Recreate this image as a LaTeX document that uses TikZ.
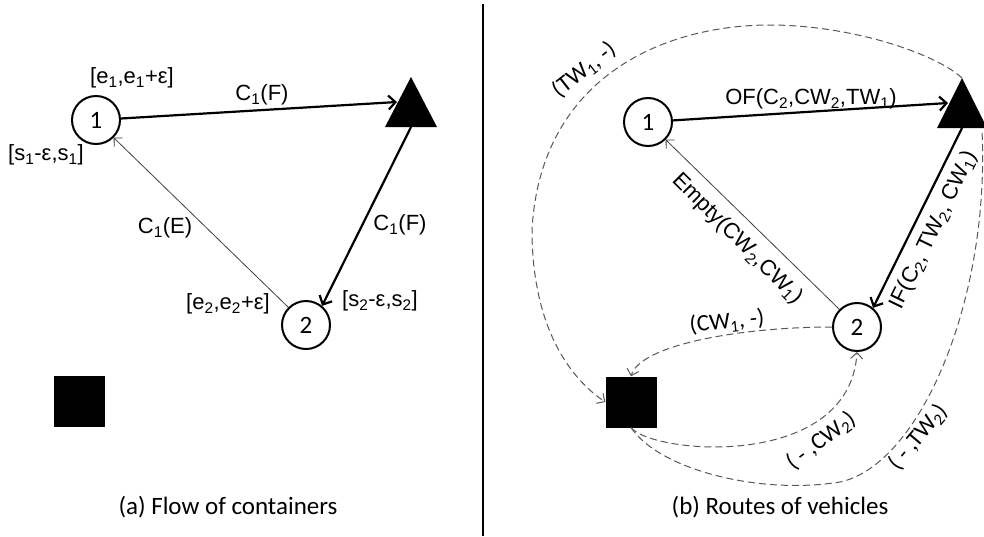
\documentclass[tikz,border=0pt]{standalone}
\usepackage{fontspec}
\setmainfont{Liberation Sans}
\newfontfamily\calfont{Carlito}
\usetikzlibrary{arrows.meta}
\newcommand\sbs[1]{\textsubscript{#1}}
\begin{document}
\begin{tikzpicture}[x=1pt,y=-1pt,
  vnode/.style={circle,draw,line width=2pt,minimum size=48pt,inner sep=0pt,font=\calfont\fontsize{25}{30}\selectfont},
  depot/.style={rectangle,fill=black,minimum size=51pt,inner sep=0pt},
  lab/.style={inner sep=1pt,font=\fontsize{22}{26}\selectfont},
  dlab/.style={inner sep=1pt,font=\calfont\fontsize{23.5}{28}\selectfont},
  captxt/.style={inner sep=0pt,font=\calfont\fontsize{25}{30}\selectfont},
  flow/.style={line width=2.2pt,-{Straight Barb[length=7pt,width=14pt]}},
  emptyarr/.style={line width=0.8pt,draw=black!75,-{Straight Barb[length=6pt,width=12pt]}},
  route/.style={line width=1pt,draw=black!65,dash pattern=on 7pt off 4pt},
  routearr/.style={route,-{Straight Barb[length=6pt,width=12pt]}},
]
\useasboundingbox (0,0) rectangle (984,536);
\fill[white] (0,0) rectangle (984,536);

% divider
\draw[line width=2.5pt] (483,4) -- (483,536);

% ---------- left panel ----------
\node[vnode] (L1) at (96,120) {1};
\node[vnode] (L2) at (306,325) {2};
\node[depot] (LS) at (79,401) {};
\fill (385,127) -- (411,77) -- (437,127) -- cycle;
\coordinate (LTin) at (397,102);
\coordinate (LTout) at (411,127);

\draw[flow] (L1) -- (LTin);
\draw[flow] (LTout) -- (L2.50);
\draw[emptyarr] (L2.135) -- (L1.-45);

\node[lab] (le1) at (132,78) {[e\sbs1,e\sbs1+ε]};
\node[lab] (ls1) at (46,155) {[s\sbs1-ε,s\sbs1]};
\node[lab] (lcf1) at (262,95) {C\sbs1(F)};
\node[lab] (lcf2) at (400,225) {C\sbs1(F)};
\node[lab] (lce) at (165,228) {C\sbs1(E)};
\node[lab] (le2) at (228,304) {[e\sbs2,e\sbs2+ε]};
\node[lab] (ls2) at (380,301) {[s\sbs2-ε,s\sbs2]};
\node[captxt] (capa) at (228,507) {(a) Flow of containers};

% ---------- right panel ----------
\node[vnode] (R1) at (648,122) {1};
\node[vnode] (R2) at (857,327) {2};
\node[depot] (RS) at (631,402) {};
\fill (937,128) -- (962,78) -- (987,128) -- cycle;
\coordinate (RTa) at (962,78);
\coordinate (RTin) at (948,103);
\coordinate (RTout) at (962,128);
\coordinate (RTr) at (982,131);

\draw[flow] (R1) -- (RTin);
\draw[flow] (RTout) -- (R2.50);
\draw[emptyarr] (R2.135) -- (R1.-45);

\draw[routearr] (RTa) .. controls (935,53) and (850,25) .. (770,25)
   .. controls (660,25) and (540,80) .. (532,230)
   .. controls (532,320) and (565,375) .. (RS.west);
\draw[routearr] (R2.west) .. controls (740,327) and (640,345) .. (RS.north);
\draw[routearr] (RS.south) .. controls (655,455) and (850,470) .. (R2.south);
\draw[route] (RS.south) .. controls (660,470) and (760,495) .. (840,482)
   .. controls (920,465) and (990,300) .. (RTr);

\node[lab] (lof) at (811,99) {OF(C\sbs2,CW\sbs2,TW\sbs1)};
\node[lab,rotate=64] (lif) at (934,230) {IF(C\sbs2, TW\sbs2, CW\sbs1)};
\node[lab,rotate=-45] (lem) at (737,239) {Empty(CW\sbs2,CW\sbs1)};
\node[dlab,rotate=38] (ltw1) at (584,70) {(TW\sbs1, -)};
\node[dlab,rotate=6] (lcw1) at (727,322) {(CW\sbs1, -)};
\node[dlab,rotate=37] (lcw2) at (821,441) {( - ,CW\sbs2)};
\node[dlab,rotate=50] (ltw2) at (918,437) {( - ,TW\sbs2)};
\node[captxt] (capb) at (780,507) {(b) Routes of vehicles};
\end{tikzpicture}
\end{document}
